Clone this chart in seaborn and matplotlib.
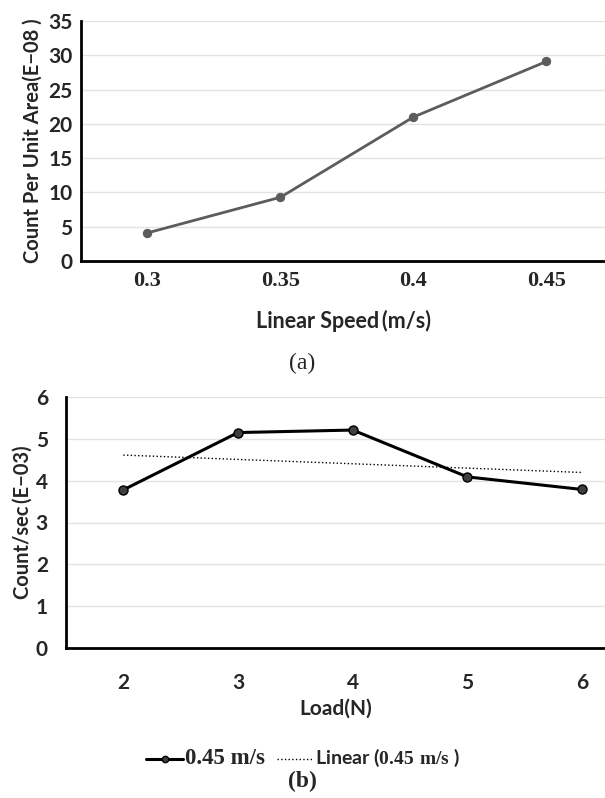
import matplotlib
matplotlib.use('Agg')
import matplotlib.pyplot as plt
import pandas as pd
import seaborn as sns

# panel (a)
speed = [0.3, 0.35, 0.4, 0.45]
count_area = [4.1, 9.3, 21.0, 29.1]

# panel (b)
load = [2, 3, 4, 5, 6]
count_sec = [3.78, 5.15, 5.21, 4.09, 3.79]

sns.set_theme(style='white')
plt.rcParams['font.family'] = ['Lato', 'DejaVu Sans']
plt.rcParams['mathtext.fontset'] = 'custom'
plt.rcParams['mathtext.bf'] = 'Liberation Serif:bold'
plt.rcParams['mathtext.rm'] = 'Liberation Serif'

SANS = dict(fontfamily=['Lato', 'DejaVu Sans'], fontweight='bold')
SERIF = dict(fontfamily='Liberation Serif')

fig = plt.figure(figsize=(6.05, 7.98), dpi=100)

data_a = pd.DataFrame({'speed': speed, 'count': count_area})
data_b = pd.DataFrame({'load': load, 'count': count_sec})


def style_axes(ax):
    for side in ['top', 'right']:
        ax.spines[side].set_visible(False)
    for side in ['left', 'bottom']:
        ax.spines[side].set_color('black')
        ax.spines[side].set_linewidth(2.0)
    ax.yaxis.grid(True, color='#e3e3e3', lw=1.0)
    ax.set_axisbelow(True)
    ax.tick_params(axis='both', length=0)


# %% panel (a)
ax_a = fig.add_axes([81 / 605, 1 - 261 / 798, 1 - 81 / 605, 240 / 798])
sns.lineplot(ax=ax_a, data=data_a, x='speed', y='count',
             color='#5c5c5c', lw=2.0, marker='o', markersize=6,
             markeredgecolor='#5c5c5c')
style_axes(ax_a)
ax_a.set_xlim(0.275, 0.472)
ax_a.set_ylim(0, 35)
ax_a.set_xticks(speed)
ax_a.set_xticklabels(['0.3', '0.35', '0.4', '0.45'], fontsize=16,
                     fontweight='bold', **SERIF)
ax_a.set_yticks(range(0, 36, 5))
ax_a.set_yticklabels([str(v) for v in range(0, 36, 5)], fontsize=15, **SANS)
ax_a.tick_params(axis='x', pad=7)
ax_a.tick_params(axis='y', pad=6)
ax_a.set_xlabel('Linear Speed\u2009(m/s)', fontsize=15.5, labelpad=14,
                **SANS)
ax_a.set_ylabel('Count Per Unit Area(E\u221208 )', fontsize=14.5, labelpad=4,
                **SANS)
fig.text(302 / 605, 1 - 363 / 798, '(a)', ha='center', va='center',
         fontsize=17, **SERIF)

# %% panel (b)
ax_b = fig.add_axes([66 / 605, 1 - 648 / 798, 1 - 66 / 605, 251 / 798])
sns.lineplot(ax=ax_b, data=data_b, x='load', y='count',
             color='black', lw=2.2, marker='o', markersize=6.5,
             markerfacecolor='#3f3f3f', markeredgecolor='black',
             markeredgewidth=1.0, label='0.45 m/s')
sns.regplot(ax=ax_b, data=data_b, x='load', y='count', scatter=False,
            ci=None, color='black', line_kws=dict(ls=':', lw=1.0))
trend = ax_b.lines[-1]
style_axes(ax_b)
ax_b.set_xlim(1.5, 6.2)
ax_b.set_ylim(0, 6)
ax_b.set_xticks(load)
ax_b.set_xticklabels([str(v) for v in load], fontsize=15, **SANS)
ax_b.set_yticks(range(0, 7))
ax_b.set_yticklabels([str(v) for v in range(0, 7)], fontsize=15, **SANS)
ax_b.tick_params(axis='x', pad=18)
ax_b.tick_params(axis='y', pad=13)
ax_b.set_xlabel('Load(N)', fontsize=15, labelpad=4, **SANS)
ax_b.set_ylabel('Count/sec\u2009(E\u221203)', fontsize=14.5, labelpad=2,
                **SANS)

handles = [ax_b.lines[0], trend]
labels = ['0.45 m/s', r'Linear ($\mathbf{0.45\ m/s}$ )']
if ax_b.get_legend() is not None:
    ax_b.get_legend().remove()
leg = fig.legend(handles, labels, loc='center',
                 bbox_to_anchor=(303 / 605, 1 - 758 / 798), ncol=2,
                 frameon=False, handlelength=2.4, handletextpad=0.1,
                 columnspacing=0.8, markerscale=0.7)
leg_texts = leg.get_texts()
leg_texts[0].set_fontfamily('Liberation Serif')
leg_texts[0].set_fontweight('bold')
leg_texts[0].set_fontsize(16.5)
leg_texts[1].set_fontfamily(['Lato', 'DejaVu Sans'])
leg_texts[1].set_fontweight('bold')
leg_texts[1].set_fontsize(14)

fig.text(302 / 605, 1 - 781 / 798, '(b)', ha='center', va='center',
         fontsize=17, fontweight='bold', **SERIF)

fig.savefig('out.png', dpi=100)
